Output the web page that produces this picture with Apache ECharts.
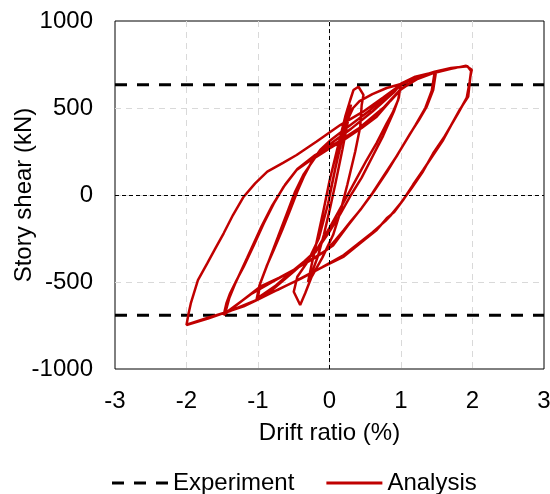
<!DOCTYPE html>
<html>
<head>
<meta charset="utf-8">
<script src="https://cdn.jsdelivr.net/npm/echarts@6/dist/echarts.min.js"></script>
<style>
  html, body { margin: 0; padding: 0; background: #fff; }
  #chart { width: 550px; height: 494px; }
</style>
</head>
<body>
<div id="chart"></div>
<script>
// Axis ticks
const driftTicks = [-3, -2, -1, 0, 1, 2, 3];
const shearTicks = [-1000, -500, 0, 500, 1000];

// Measured strength levels (kN)
const experimentPositive = 634;
const experimentNegative = -691;

// Analysis hysteresis, cycle by cycle: [drift ratio (%), story shear (kN)]
const cycleSmall = [
  [0, 0], [0.08, 150], [0.16, 300], [0.25, 450], [0.30, 520], [0.26, 430], [0.18, 260],
  [0.08, 60], [0, -90], [-0.08, -230], [-0.16, -350], [-0.25, -450], [-0.30, -500],
  [-0.26, -420], [-0.18, -270], [-0.08, -80], [0, 80], [0.1, 250], [0.22, 450]
];
const cyclePinch = [
  [0.29, 546], [0.335, 603], [0.405, 622], [0.475, 575], [0.45, 517], [0.43, 392],
  [0.36, 250], [0.25, 60], [0.15, -100], [0.05, -230], [-0.1, -360], [-0.25, -470],
  [-0.34, -565], [-0.41, -632], [-0.5, -556], [-0.45, -470], [-0.3, -380], [-0.15, -250],
  [-0.02, -50], [0.08, 150], [0.18, 330], [0.25, 430], [0.33, 500], [0.42, 540]
];
const cycleOne = [
  [0.6, 580], [0.8, 615], [1.0, 638], [0.96, 546], [0.88, 470], [0.8, 412], [0.66, 300],
  [0.52, 201], [0.38, 95], [0.24, -10], [0.12, -100], [0.01, -182], [-0.18, -316],
  [-0.35, -380], [-0.5, -431], [-0.75, -520], [-1.0, -590], [-0.97, -508], [-0.88, -410],
  [-0.78, -316], [-0.66, -200], [-0.55, -86], [-0.45, 20], [-0.36, 105], [-0.25, 190],
  [-0.13, 259], [0, 310], [0.2, 374], [0.4, 435], [0.57, 489], [0.8, 570], [0.99, 628],
  [0.97, 560], [0.9, 480], [0.75, 340], [0.6, 220], [0.45, 100], [0.3, 0], [0.15, -110],
  [0, -210], [-0.2, -330], [-0.5, -440], [-0.8, -545], [-1.02, -600], [-0.98, -520],
  [-0.85, -380], [-0.72, -240], [-0.6, -110], [-0.48, 20], [-0.36, 120], [-0.2, 215],
  [0, 290], [0.3, 380], [0.6, 480], [0.9, 590]
];
const cycleOneHalf = [
  [1.0, 640], [1.2, 680], [1.49, 709], [1.45, 603], [1.36, 508], [1.25, 430], [1.13, 354],
  [0.95, 230], [0.75, 105], [0.6, 10], [0.43, -86], [0.3, -150], [0.2, -201], [0.08, -260],
  [-0.04, -316], [-0.25, -370], [-0.46, -421], [-0.7, -475], [-0.97, -527], [-1.2, -600],
  [-1.48, -690], [-1.44, -620], [-1.39, -565], [-1.3, -490], [-1.2, -412], [-1.06, -290],
  [-0.92, -163], [-0.78, -50], [-0.64, 48], [-0.46, 144], [-0.3, 190], [-0.18, 220],
  [0, 268], [0.2, 316], [0.45, 385], [0.66, 450], [0.85, 540], [0.99, 603], [1.2, 662],
  [1.47, 703], [1.43, 600], [1.34, 500], [1.2, 400], [1.0, 265], [0.8, 130], [0.62, 20],
  [0.45, -75], [0.25, -180], [0.05, -290], [-0.2, -360], [-0.5, -430], [-0.8, -500],
  [-1.1, -570], [-1.46, -680], [-1.40, -590], [-1.32, -510], [-1.15, -360], [-0.95, -180],
  [-0.8, -60], [-0.62, 60], [-0.45, 150], [-0.2, 230], [0.1, 300], [0.4, 380], [0.75, 500],
  [1.0, 610], [1.3, 685]
];
const cycleTwo = [
  [1.7, 725], [1.91, 743], [1.99, 720], [1.97, 680], [1.94, 565], [1.82, 489], [1.7, 400],
  [1.59, 316], [1.45, 230], [1.31, 144], [1.17, 60], [1.03, -29], [0.9, -100], [0.8, -134],
  [0.66, -201], [0.45, -270], [0.2, -354], [-0.05, -405], [-0.27, -450], [-0.5, -500],
  [-0.73, -546], [-1.01, -603], [-1.2, -640], [-1.43, -671], [-1.7, -710], [-2.0, -747],
  [-1.97, -680], [-1.94, -623], [-1.84, -489], [-1.71, -393], [-1.6, -310], [-1.48, -220],
  [-1.35, -115], [-1.2, -10], [-1.04, 67], [-0.87, 134], [-0.65, 185], [-0.46, 230],
  [-0.18, 307], [0.15, 402], [0.47, 479], [0.75, 560], [0.99, 632], [1.25, 680],
  [1.47, 709], [1.7, 730], [1.93, 740], [1.98, 712], [1.96, 650], [1.92, 560], [1.8, 470],
  [1.6, 330], [1.45, 240], [1.3, 130], [1.15, 40], [1.0, -45], [0.85, -120], [0.78, -150],
  [0.6, -215], [0.4, -280], [0.2, -345], [-0.1, -415], [-0.4, -480], [-0.7, -540],
  [-1.0, -600], [-1.4, -668], [-1.7, -705], [-2.0, -745]
];

const analysis = [].concat(cycleSmall, cyclePinch, cycleOne, cycleOneHalf, cycleTwo);

const font = "'Liberation Sans', Arial, sans-serif";
const black = '#000';
const red = '#C00000';

// Legend keys drawn as plain strokes: three dashes, and one solid bar
const dashedKey = 'path://M0,0H12V3H0Z M22,0H34V3H22Z M44,0H56V3H44Z';
const solidKey = 'path://M0,0H56V3H0Z';

// Light dashed gridlines inside the frame only
const gridLines = {
  show: true, showMinLine: false, showMaxLine: false,
  lineStyle: { color: '#d9d9d9', width: 1, type: [6, 5] }
};

const chart = echarts.init(document.getElementById('chart'), null, { renderer: 'canvas' });
chart.setOption({
  animation: false,
  textStyle: { fontFamily: font, color: black },
  grid: {
    left: 115, right: 6, top: 21, bottom: 125,
    outerBoundsMode: 'none', containLabel: false,
    show: true, borderColor: black, borderWidth: 1, backgroundColor: 'transparent'
  },
  legend: {
    data: [
      { name: 'Experiment', icon: dashedKey },
      { name: 'Analysis', icon: solidKey }
    ],
    left: 107, top: 466,
    itemWidth: 56, itemHeight: 3, itemGap: 32,
    textStyle: { fontFamily: font, fontSize: 24, color: black }
  },
  xAxis: {
    type: 'value',
    min: driftTicks[0], max: driftTicks[driftTicks.length - 1], interval: 1,
    name: 'Drift ratio (%)', nameLocation: 'middle', nameGap: 52, nameMoveOverlap: false,
    nameTextStyle: { fontSize: 24, color: black, fontFamily: font },
    axisLine: { show: false }, axisTick: { show: false },
    axisLabel: { fontSize: 24, color: black, margin: 20, fontFamily: font, formatter: v => String(v) },
    splitLine: gridLines
  },
  yAxis: {
    type: 'value',
    min: shearTicks[0], max: shearTicks[shearTicks.length - 1], interval: 500,
    name: 'Story shear (kN)', nameLocation: 'middle', nameGap: 79, nameMoveOverlap: false,
    nameTextStyle: { fontSize: 24, color: black, fontFamily: font },
    axisLine: { show: false }, axisTick: { show: false },
    axisLabel: { fontSize: 24, color: black, margin: 22, fontFamily: font, formatter: v => String(v) },
    splitLine: gridLines
  },
  series: [
    {
      name: 'Experiment', type: 'line', z: 2, symbol: 'none', silent: true,
      data: [[driftTicks[0], experimentPositive], [driftTicks[driftTicks.length - 1], experimentPositive]],
      lineStyle: { color: black, width: 3, type: [12, 10] },
      itemStyle: { color: black },
      markLine: {
        silent: true, symbol: 'none', label: { show: false },
        lineStyle: { color: black, width: 1, type: [4, 3] },
        data: [{ xAxis: 0 }, { yAxis: 0 }]
      }
    },
    {
      name: 'Experiment', type: 'line', z: 2, symbol: 'none', silent: true,
      data: [[driftTicks[0], experimentNegative], [driftTicks[driftTicks.length - 1], experimentNegative]],
      lineStyle: { color: black, width: 3, type: [12, 10] },
      itemStyle: { color: black }
    },
    {
      name: 'Analysis', type: 'line', z: 3, symbol: 'none', silent: true,
      data: analysis,
      lineStyle: { color: red, width: 2.5 },
      itemStyle: { color: red }
    }
  ]
});
</script>
</body>
</html>
